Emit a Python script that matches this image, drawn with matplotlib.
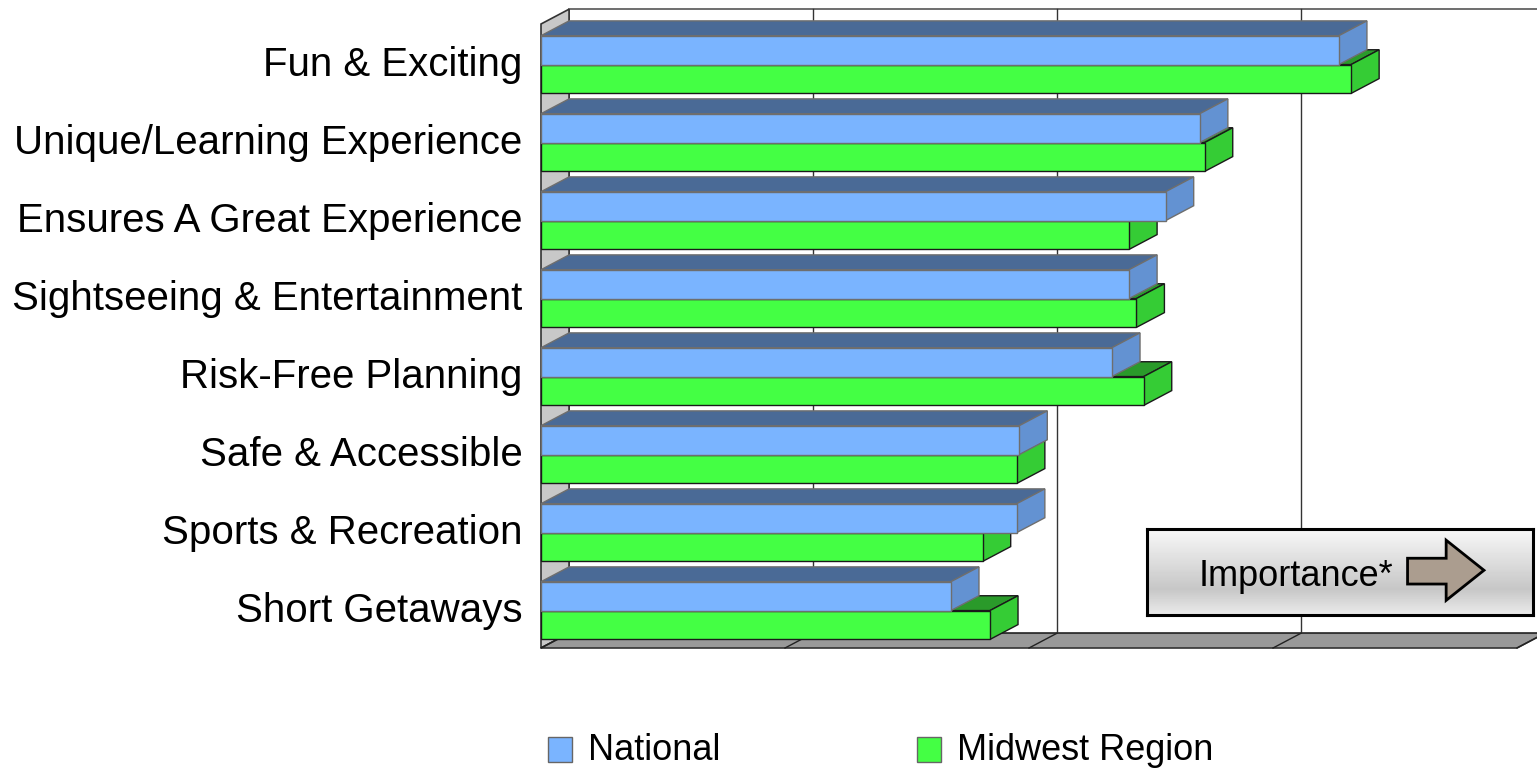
import numpy as np
import matplotlib.pyplot as plt
from matplotlib.patches import Polygon, Rectangle

plt.rcParams['font.family'] = ['Liberation Sans', 'DejaVu Sans']

categories = ["Fun & Exciting", "Unique/Learning Experience", "Ensures A Great Experience",
              "Sightseeing & Entertainment", "Risk-Free Planning", "Safe & Accessible",
              "Sports & Recreation", "Short Getaways"]
national = [3.27, 2.70, 2.56, 2.41, 2.34, 1.96, 1.95, 1.68]
midwest = [3.32, 2.72, 2.41, 2.44, 2.47, 1.95, 1.81, 1.84]
series_names = ["National", "Midwest Region"]

# 3d look: depth offset in data units
DX, DY = 0.115, 0.19
XMAX = 4.0
Y_TOP, Y_BOT = -0.5, 7.5

nat_cols = dict(front="#7ab4ff", top="#4a6a96", side="#6392d2", edge="#6e6e6e")
mid_cols = dict(front="#44ff44", top="#2a9a2a", side="#35cc35", edge="#1a1a1a")


def bar3d(ax, v, y0, y1, c):
    top = [(0, y0), (v, y0), (v + DX, y0 - DY), (DX, y0 - DY)]
    side = [(v, y0), (v, y1), (v + DX, y1 - DY), (v + DX, y0 - DY)]
    kw = dict(ec=c["edge"], lw=1, clip_on=False, zorder=3)
    ax.add_patch(Polygon(top, fc=c["top"], **kw))
    ax.add_patch(Polygon(side, fc=c["side"], **kw))
    ax.add_patch(Rectangle((0, y0), v, y1 - y0, fc=c["front"], **kw))


fig = plt.figure(figsize=(15.37, 7.68), dpi=100)
ax = fig.add_axes([541 / 1537, 108 / 768, 996 / 1537, 660 / 768])
ax.set_xlim(0, 996 / 244)
ax.set_ylim(Y_BOT + 12 / 78, Y_TOP - 24 / 78)
ax.axis("off")

# back wall, left wall and floor
ax.add_patch(Rectangle((DX, Y_TOP - DY), XMAX, Y_BOT - Y_TOP, fc="white", ec="#555555",
                       lw=1.2, clip_on=False, zorder=0))
for k in range(1, 4):
    ax.plot([k + DX, k + DX], [Y_TOP - DY, Y_BOT - DY], color="#333333", lw=1,
            clip_on=False, zorder=0.5)
ax.add_patch(Polygon([(0, Y_TOP), (DX, Y_TOP - DY), (DX, Y_BOT - DY), (0, Y_BOT)],
                     fc="#c8c8c8", ec="#333333", lw=1.2, clip_on=False, zorder=1))
ax.add_patch(Polygon([(0, Y_BOT), (XMAX, Y_BOT), (XMAX + DX, Y_BOT - DY), (DX, Y_BOT - DY)],
                     fc="#999999", ec="#333333", lw=1.2, clip_on=False, zorder=1))
for k in range(0, 5):
    ax.plot([k, k + DX], [Y_BOT, Y_BOT - DY], color="#222222", lw=1, clip_on=False, zorder=1.5)

for i, name in enumerate(categories):
    y0 = i - 0.35
    ymid = i + 0.02
    y1 = i + 0.39
    bar3d(ax, midwest[i], ymid, y1, mid_cols)
    bar3d(ax, national[i], y0, ymid, nat_cols)
    ax.text(-0.075, i + 0.03, name, ha="right", va="center", fontsize=29, color="black")

# importance box
bax = fig.add_axes([1147 / 1537, 153 / 768, 386 / 1537, 86 / 768])
grad = np.concatenate([np.linspace(0.97, 0.78, 60), np.linspace(0.78, 0.92, 26)])
bax.imshow(grad[:, None], cmap="gray", vmin=0, vmax=1, aspect="auto", extent=(0, 1, 0, 1))
bax.set_xlim(0, 1)
bax.set_ylim(0, 1)
bax.set_xticks([])
bax.set_yticks([])
for s in bax.spines.values():
    s.set_linewidth(2.2)
    s.set_color("black")
bax.text(0.385, 0.45, "Importance*", ha="center", va="center", fontsize=26)
arrow = [(0.675, 0.36), (0.775, 0.36), (0.775, 0.17), (0.873, 0.52),
         (0.775, 0.87), (0.775, 0.66), (0.675, 0.66)]
bax.add_patch(Polygon(arrow, fc="#ab9d8f", ec="black", lw=2))

# legend
for x0, col, label in [(548, nat_cols, series_names[0]), (917, mid_cols, series_names[1])]:
    fig.patches.append(Rectangle((x0 / 1537, 6 / 768), 24 / 1537, 25 / 768, fc=col["front"],
                                 ec="#666666", lw=1, transform=fig.transFigure))
    fig.text((x0 + 40) / 1537, 18 / 768, label, ha="left", va="center", fontsize=26)

fig.savefig("out.png", dpi=100)
